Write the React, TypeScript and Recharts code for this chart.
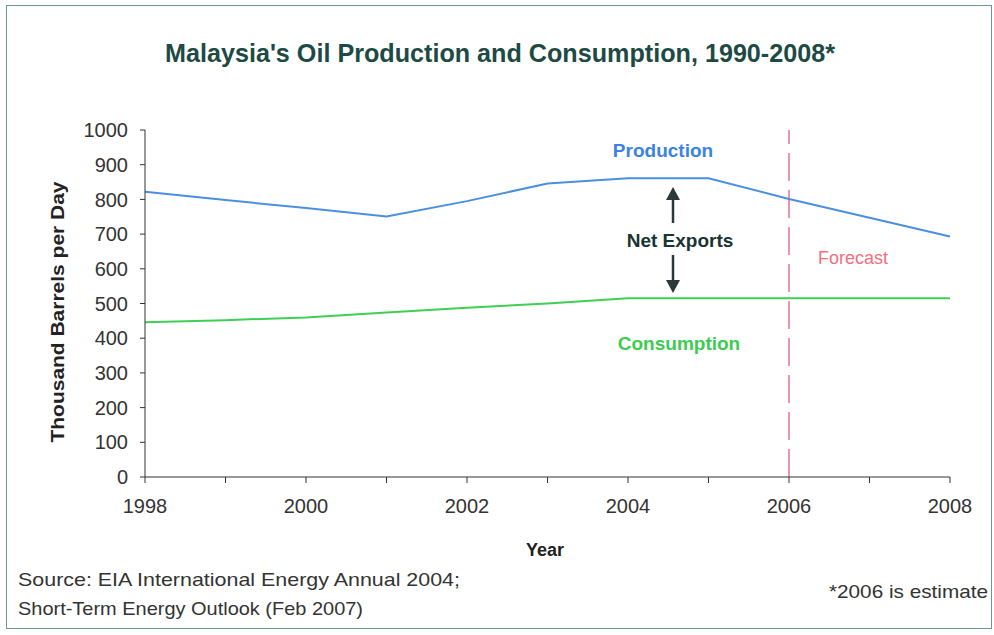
import React from 'react';
import { LineChart, Line, XAxis, YAxis, ReferenceLine } from 'recharts';

const years = [1998, 1999, 2000, 2001, 2002, 2003, 2004, 2005, 2006, 2007, 2008];
const production = [822, 798, 775, 751, 795, 846, 861, 861, 801, 747, 693];
const consumption = [446, 452, 460, 474, 488, 500, 515, 515, 515, 515, 515];
const yTicks = [0, 100, 200, 300, 400, 500, 600, 700, 800, 900, 1000];
const forecastYear = 2006;

const data = years.map((y, i) => ({ year: y, production: production[i], consumption: consumption[i] }));

const FONT = '"Liberation Sans", Arial, sans-serif';
const NARROW = '"Liberation Sans Narrow", "Arial Narrow", "Liberation Sans", sans-serif';

export default function App() {
  return (
    <div style={{ position: 'absolute', left: 0, top: 0, width: 994, height: 635, background: '#fff', fontFamily: FONT }}>
      <div style={{ position: 'absolute', left: 6, top: 5, width: 986, height: 624, border: '1.5px solid #6f9692', boxSizing: 'border-box' }} />
      <LineChart
        width={994}
        height={635}
        data={data}
        margin={{ top: 130, right: 44, left: 85, bottom: 118 }}
        style={{ position: 'absolute', left: 0, top: 0, fontFamily: FONT }}
      >
        <XAxis
          dataKey="year"
          type="number"
          domain={[1998, 2008]}
          ticks={years}
          interval={0}
          tickFormatter={(v: number) => (v % 2 === 0 ? String(v) : '')}
          height={40}
          tickSize={6}
          tickMargin={16}
          stroke="#333"
          tick={{ fill: '#333', fontSize: 20 }}
        />
        <YAxis
          type="number"
          domain={[0, 1000]}
          ticks={yTicks}
          interval={0}
          width={60}
          tickSize={5}
          tickMargin={12}
          stroke="#333"
          tick={{ fill: '#333', fontSize: 20 }}
        />
        <ReferenceLine x={forecastYear} stroke="#ee6f9a" strokeWidth={1.5} strokeDasharray="28 9" />
        <Line type="linear" dataKey="consumption" stroke="#3fcf55" strokeWidth={2} dot={false} isAnimationActive={false} />
        <Line type="linear" dataKey="production" stroke="#4a8fe0" strokeWidth={2} dot={false} isAnimationActive={false} />
      </LineChart>
      <svg width={994} height={635} style={{ position: 'absolute', left: 0, top: 0, pointerEvents: 'none', fontFamily: FONT }}>
        <text x={500} y={62} textAnchor="middle" fontSize={25} fontWeight="bold" fill="#1d4a44" fontFamily={NARROW} textLength={670} lengthAdjust="spacingAndGlyphs">
          Malaysia's Oil Production and Consumption, 1990-2008*
        </text>
        <text x={663} y={157} textAnchor="middle" fontSize={19} fontWeight="bold" fill="#3c82e0">Production</text>
        <text x={680} y={247} textAnchor="middle" fontSize={19} fontWeight="bold" fill="#1a3333">Net Exports</text>
        <text x={853} y={264} textAnchor="middle" fontSize={18} fill="#f07080">Forecast</text>
        <text x={679} y={350} textAnchor="middle" fontSize={19} fontWeight="bold" fill="#3ccc50">Consumption</text>
        <g stroke="#2a3a3a" fill="#2a3a3a">
          <line x1={673} y1={223} x2={673} y2={198} strokeWidth={2.5} />
          <polygon points="673,187 666,200 680,200" stroke="none" />
          <line x1={673} y1={255} x2={673} y2={281} strokeWidth={2.5} />
          <polygon points="673,293 666,280 680,280" stroke="none" />
        </g>
        <text x={545} y={556} textAnchor="middle" fontSize={18} fontWeight="bold" fill="#222">Year</text>
        <text transform="translate(64,312) rotate(-90)" textAnchor="middle" fontSize={19} fontWeight="bold" fill="#222" textLength={261} lengthAdjust="spacingAndGlyphs">
          Thousand Barrels per Day
        </text>
        <text x={18} y={586} fontSize={19} fill="#333" textLength={442} lengthAdjust="spacingAndGlyphs">Source: EIA International Energy Annual 2004;</text>
        <text x={18} y={615} fontSize={19} fill="#333" textLength={345} lengthAdjust="spacingAndGlyphs">Short-Term Energy Outlook (Feb 2007)</text>
        <text x={829} y={598} fontSize={19} fill="#333" textLength={159} lengthAdjust="spacingAndGlyphs">*2006 is estimate</text>
      </svg>
    </div>
  );
}
